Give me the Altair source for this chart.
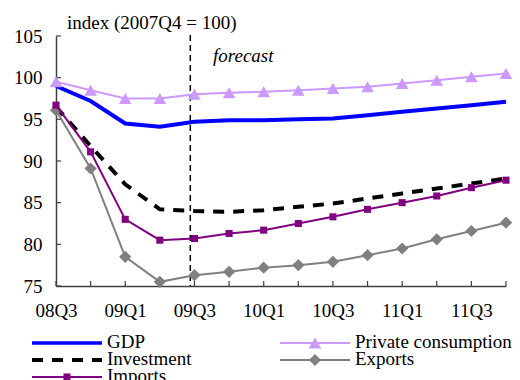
import altair as alt
import pandas as pd

# ---------------- data ----------------
quarters = ["08Q3", "08Q4", "09Q1", "09Q2", "09Q3", "09Q4", "10Q1",
            "10Q2", "10Q3", "10Q4", "11Q1", "11Q2", "11Q3", "11Q4"]
gdp = [99.0, 97.2, 94.5, 94.1, 94.7, 94.9, 94.9, 95.0, 95.1, 95.5, 95.9, 96.3, 96.7, 97.1]
private_consumption = [99.5, 98.5, 97.5, 97.5, 98.0, 98.2, 98.3, 98.5, 98.7, 98.9, 99.3, 99.7, 100.1, 100.5]
investment = [96.5, 91.8, 87.2, 84.2, 84.0, 83.9, 84.1, 84.5, 84.9, 85.5, 86.1, 86.7, 87.3, 87.9]
exports = [96.1, 89.1, 78.5, 75.5, 76.3, 76.7, 77.2, 77.5, 77.9, 78.7, 79.5, 80.6, 81.6, 82.6]
imports = [96.7, 91.1, 83.0, 80.5, 80.7, 81.3, 81.7, 82.5, 83.3, 84.2, 85.0, 85.8, 86.8, 87.7]
y_ticks = [75, 80, 85, 90, 95, 100, 105]
forecast_start = 3.88  # position of the forecast divider (quarter index)

series_names = ["GDP", "Private consumption", "Investment", "Exports", "Imports"]
series_values = [gdp, private_consumption, investment, exports, imports]

# ---------------- styling ----------------
FONT = "Liberation Serif"
FS = 19
AXIS_COLOR = "#404040"
W, H = 450, 250
n = len(quarters)

styles = {
    "GDP": dict(color="#0000FF", width=4),
    "Private consumption": dict(color="#CC99FF", width=2, shape="triangle-up", size=160),
    "Investment": dict(color="#000000", width=4, dash=[11, 9]),
    "Exports": dict(color="#808080", width=2, shape="diamond", size=150),
    "Imports": dict(color="#800080", width=2, shape="square", size=50),
}

rows = []
for name, vals in zip(series_names, series_values):
    for i, v in enumerate(vals):
        rows.append({"series": name, "idx": i, "value": v})
df = pd.DataFrame(rows)

label_arr = "[" + ",".join(("'" + q + "'") if i % 2 == 0 else "''" for i, q in enumerate(quarters)) + "]"

x_scale = alt.Scale(domain=[0, n - 1], nice=False, zero=False)
y_scale = alt.Scale(domain=[75, 105], nice=False, zero=False)

x_axis = alt.Axis(values=list(range(n)), labelExpr=label_arr + "[datum.value]", ticks=False,
                  domainColor=AXIS_COLOR, domainWidth=1.5, labelFont=FONT, labelFontSize=FS,
                  labelColor="black", labelPadding=15, grid=False, title=None,
                  labelFlush=False, labelOverlap=False)
y_axis = alt.Axis(values=y_ticks, ticks=False, domainColor=AXIS_COLOR, domainWidth=1.5,
                  labelFont=FONT, labelFontSize=FS, labelColor="black", labelPadding=14,
                  grid=False, title=None)

x_enc = alt.X("idx:Q", scale=x_scale, axis=x_axis)
y_enc = alt.Y("value:Q", scale=y_scale, axis=y_axis)

layers = []

# inward axis ticks
tick_x = alt.Chart(pd.DataFrame({"idx": list(range(n))})).mark_rule(
    color=AXIS_COLOR, strokeWidth=1.2).encode(
    x=x_enc, y=alt.value(H - 5), y2=alt.value(H))
tick_y = alt.Chart(pd.DataFrame({"value": y_ticks})).mark_rule(
    color=AXIS_COLOR, strokeWidth=1.2).encode(
    y=y_enc, x=alt.value(0), x2=alt.value(5))
layers += [tick_x, tick_y]

# forecast divider
divider = alt.Chart(pd.DataFrame({"idx": [forecast_start]})).mark_rule(
    color="black", strokeDash=[6, 4], strokeWidth=1.5).encode(
    x=x_enc, y=alt.value(-1), y2=alt.value(H))
layers.append(divider)

draw_order = ["Investment", "Exports", "Imports", "GDP", "Private consumption"]
for name in draw_order:
    st = styles[name]
    base = alt.Chart(df).transform_filter(alt.datum.series == name).encode(x=x_enc, y=y_enc)
    kw = dict(color=st["color"], strokeWidth=st["width"])
    if "dash" in st:
        kw["strokeDash"] = st["dash"]
    layers.append(base.mark_line(**kw))
    if "shape" in st:
        layers.append(base.mark_point(shape=st["shape"], size=st["size"], filled=True,
                                      color=st["color"], opacity=1))

one = pd.DataFrame({"a": [0]})
layers.append(alt.Chart(one).mark_text(text="index (2007Q4 = 100)", align="left",
                                       baseline="alphabetic", font=FONT, fontSize=FS,
                                       color="black").encode(x=alt.value(11), y=alt.value(-7)))
layers.append(alt.Chart(one).mark_text(text="forecast", align="left", baseline="alphabetic",
                                       font=FONT, fontSize=FS, fontStyle="italic",
                                       color="black").encode(x=alt.value(157), y=alt.value(26)))

# legend (two columns, drawn as line + marker + label)
legend_pos = {
    "GDP": (0, 0), "Private consumption": (1, 0),
    "Investment": (0, 1), "Exports": (1, 1),
    "Imports": (0, 2),
}
for name in series_names:
    col, row = legend_pos[name]
    st = styles[name]
    x1 = -24 + col * 248
    ly = 307 + row * 17
    rkw = dict(color=st["color"], strokeWidth=st["width"] if name != "GDP" else 3.5)
    if "dash" in st:
        rkw["strokeDash"] = st["dash"]
    layers.append(alt.Chart(one).mark_rule(**rkw).encode(
        x=alt.value(x1), x2=alt.value(x1 + 70), y=alt.value(ly)))
    if "shape" in st:
        layers.append(alt.Chart(one).mark_point(shape=st["shape"], size=st["size"], filled=True,
                                                color=st["color"], opacity=1).encode(
            x=alt.value(x1 + 35), y=alt.value(ly)))
    layers.append(alt.Chart(one).mark_text(text=name, align="left", baseline="alphabetic",
                                           font=FONT, fontSize=FS, color="black").encode(
        x=alt.value(x1 + 75), y=alt.value(ly + 5)))

chart = alt.layer(*layers).properties(
    width=W, height=H,
    autosize=alt.AutoSizeParams(type="none"),
    padding={"left": 48, "top": 28, "right": 6, "bottom": 94},
).configure_view(stroke=None)

chart.save("out.html", embed_options={"renderer": "svg", "actions": False})
